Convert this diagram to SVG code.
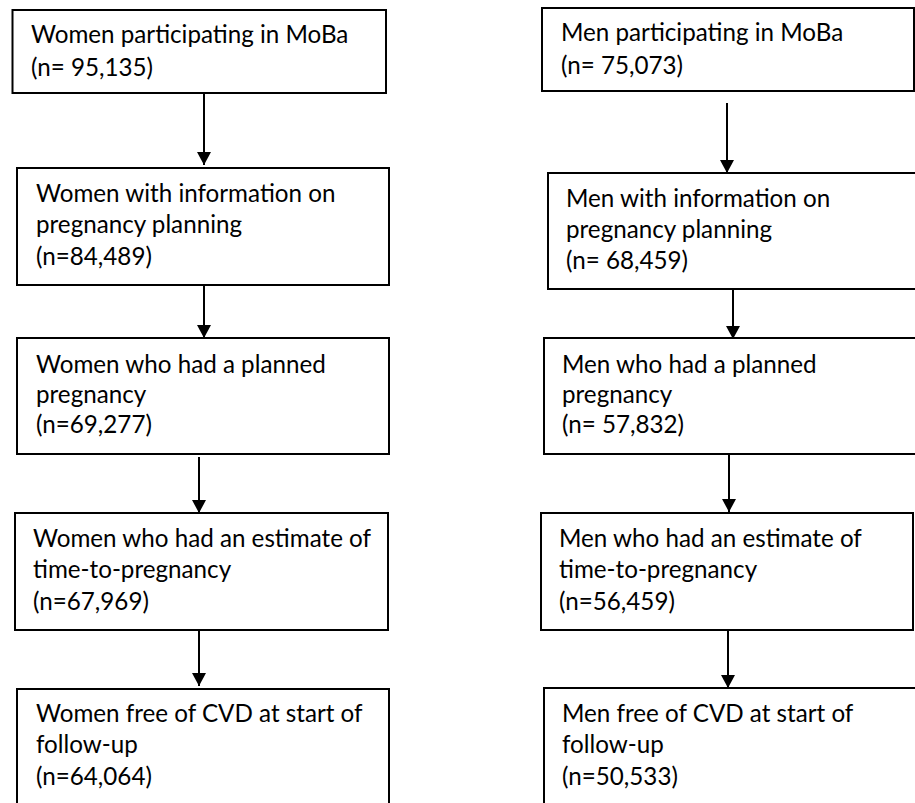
<svg xmlns="http://www.w3.org/2000/svg" width="915" height="803" viewBox="0 0 915 803">
<style>
.box{fill:#fff;stroke:#000;stroke-width:2}
.t{font-family:Lato,"Open Sans","Liberation Sans",sans-serif;font-size:24.2px;fill:#000}
.c{stroke:#000;stroke-width:2;fill:none}
</style>
<defs>
<marker id="ah" markerUnits="userSpaceOnUse" markerWidth="14" markerHeight="14" viewBox="0 0 14 14" refX="13" refY="7" orient="auto">
<path d="M0,0 L13,7 L0,14 Z" fill="#000"/>
</marker>
</defs>
<rect width="915" height="803" fill="#fff"/>
<g id="connectors">
<line class="c" x1="204" y1="93" x2="204" y2="165" marker-end="url(#ah)"/>
<line class="c" x1="204" y1="286" x2="204" y2="338" marker-end="url(#ah)"/>
<line class="c" x1="199" y1="457" x2="199" y2="513" marker-end="url(#ah)"/>
<line class="c" x1="199" y1="628" x2="199" y2="686" marker-end="url(#ah)"/>
<line class="c" x1="727" y1="103" x2="727" y2="173" marker-end="url(#ah)"/>
<line class="c" x1="733" y1="289" x2="733" y2="339" marker-end="url(#ah)"/>
<line class="c" x1="729" y1="453" x2="729" y2="512" marker-end="url(#ah)"/>
<line class="c" x1="728" y1="631" x2="728" y2="688" marker-end="url(#ah)"/>
</g>
<g id="w1"><rect class="box" x="12.5" y="10" width="373.5" height="83"/>
<text class="t" x="31" y="43">Women participating in MoBa</text>
<text class="t" x="31" y="76">(n= 95,135)</text></g>
<g id="w2"><rect class="box" x="17" y="168" width="372" height="117"/>
<text class="t" x="36" y="202">Women with information on</text>
<text class="t" x="36" y="233">pregnancy planning</text>
<text class="t" x="36" y="265">(n=84,489)</text></g>
<g id="w3"><rect class="box" x="17" y="338" width="372" height="116"/>
<text class="t" x="36" y="373">Women who had a planned</text>
<text class="t" x="36" y="403">pregnancy</text>
<text class="t" x="36" y="433">(n=69,277)</text></g>
<g id="w4"><rect class="box" x="15" y="513" width="373" height="117"/>
<text class="t" x="33" y="547">Women who had an estimate of</text>
<text class="t" x="33" y="578">time-to-pregnancy</text>
<text class="t" x="33" y="610">(n=67,969)</text></g>
<g id="w5"><rect class="box" x="17" y="689" width="372" height="130"/>
<text class="t" x="36" y="722">Women free of CVD at start of</text>
<text class="t" x="36" y="753">follow-up</text>
<text class="t" x="36" y="785">(n=64,064)</text></g>
<g id="m1"><rect class="box" x="542" y="8" width="372" height="83"/>
<text class="t" x="561" y="41">Men participating in MoBa</text>
<text class="t" x="561" y="74">(n= 75,073)</text></g>
<g id="m2"><rect class="box" x="548" y="173" width="380" height="116"/>
<text class="t" x="566" y="207">Men with information on</text>
<text class="t" x="566" y="238">pregnancy planning</text>
<text class="t" x="566" y="269">(n= 68,459)</text></g>
<g id="m3"><rect class="box" x="544" y="338" width="380" height="116"/>
<text class="t" x="562" y="373">Men who had a planned</text>
<text class="t" x="562" y="403">pregnancy</text>
<text class="t" x="562" y="433">(n= 57,832)</text></g>
<g id="m4"><rect class="box" x="541" y="513" width="372" height="117"/>
<text class="t" x="559" y="547">Men who had an estimate of</text>
<text class="t" x="559" y="578">time-to-pregnancy</text>
<text class="t" x="559" y="610">(n=56,459)</text></g>
<g id="m5"><rect class="box" x="544" y="688" width="380" height="130"/>
<text class="t" x="562" y="722">Men free of CVD at start of</text>
<text class="t" x="562" y="753">follow-up</text>
<text class="t" x="562" y="785">(n=50,533)</text></g>
</svg>
